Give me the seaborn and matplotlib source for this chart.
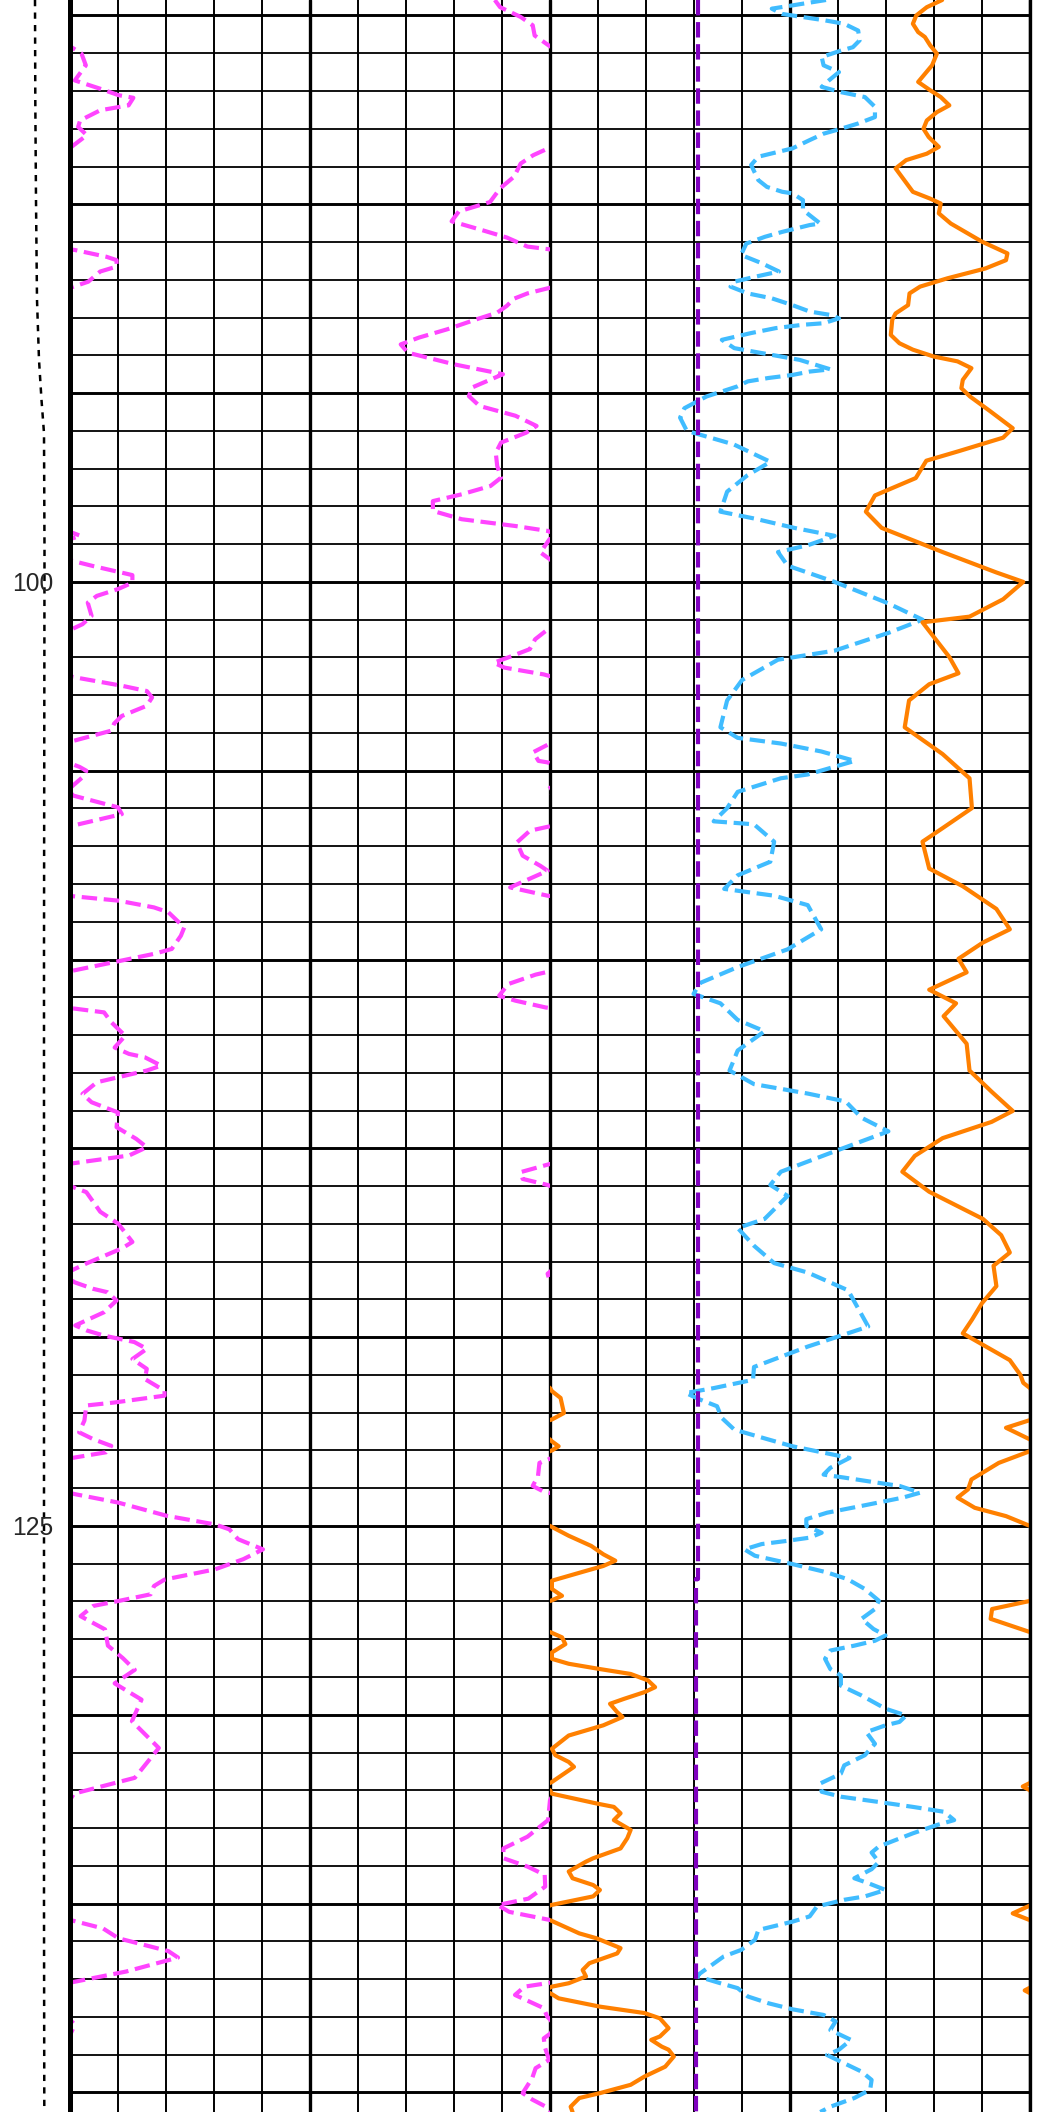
import numpy as np
import pandas as pd
import seaborn as sns
import matplotlib.pyplot as plt
from matplotlib.patches import Rectangle

# depth window shown in the picture
top_depth = 84.59
bottom_depth = 140.52

# magenta curve (wraps at 10 back into track 1)
mag_depth = [84.59, 84.78, 85.04, 85.26, 85.53, 85.79, 86.01, 86.32, 86.72, 86.94, 87.11, 87.18, 87.38,
             87.51, 87.78, 87.95, 88.17, 88.48, 88.70, 88.92, 89.27, 89.58, 89.94, 90.19, 90.45, 90.69,
             90.88, 91.12, 91.21, 91.39, 91.48, 91.65, 91.78, 92.05, 92.20, 92.36, 92.50, 92.69, 92.87,
             93.05, 93.31, 93.53, 93.71, 93.93, 94.24, 94.50, 94.85, 95.08, 95.34, 95.60, 95.87, 96.05,
             96.31, 96.58, 96.93, 97.24, 97.46, 97.68, 97.86, 98.12, 98.34, 98.52, 98.65, 98.78, 98.87,
             99.22, 99.44, 99.58, 99.82, 100.02, 100.19, 100.37, 100.55, 100.90, 101.12, 101.25, 101.30,
             101.52, 101.78, 102.00, 102.14, 102.27, 102.45, 102.52, 102.75, 102.89, 103.06, 103.28,
             103.55, 103.75, 103.94, 104.22, 104.30, 104.51, 104.74, 104.78, 104.90, 105.00, 105.13,
             105.44, 105.50, 105.66, 105.97, 106.15, 106.46, 106.59, 106.90, 107.25, 107.52, 107.65,
             107.78, 108.09, 108.31, 108.44, 108.62, 108.75, 109.15, 109.37, 109.72, 109.85, 110.30,
             110.40, 110.65, 110.96, 111.09, 111.27, 111.40, 111.66, 112.02, 112.33, 112.50, 112.59,
             112.81, 112.94, 113.25, 113.56, 113.78, 114.05, 114.44, 114.75, 114.97, 115.19, 115.40,
             115.63, 115.81, 115.97, 116.16, 116.68, 116.99, 117.48, 117.65, 118.05, 118.23, 118.32,
             118.45, 118.55, 118.72, 118.81, 119.03, 119.34, 119.69, 119.82, 119.96, 120.13, 120.31,
             120.58, 120.84, 121.11, 121.42, 121.55, 121.73, 121.81, 122.21, 122.52, 122.70, 122.88,
             123.05, 123.20, 123.33, 123.68, 123.94, 124.08, 124.16, 124.38, 124.73, 124.96, 125.09,
             125.35, 125.62, 125.88, 126.15, 126.42, 126.59, 126.81, 126.99, 127.12, 127.39, 127.74,
             128.17, 128.50, 128.81, 129.17, 129.60, 130.17, 130.88, 131.67, 132.09, 132.26, 132.79,
             133.23, 133.54, 133.80, 134.02, 134.24, 134.55, 134.87, 135.04, 135.22, 135.44, 135.66,
             135.92, 136.26, 136.43, 136.80, 136.94, 137.09, 137.14, 137.20, 137.42, 137.77, 137.99,
             138.21, 138.43, 138.57, 138.83, 139.14, 139.36, 139.62, 140.02, 140.19, 140.37, 140.52]
mag_val = [8.85, 8.96, 9.39, 9.64, 9.68, 9.97, 10.24, 10.33, 10.10, 10.63, 11.01, 11.32, 11.22,
           10.63, 10.21, 10.17, 10.35, 10.03, 9.65, 9.39, 9.25, 8.96, 8.75, 8.10, 7.95, 8.60,
           9.10, 9.53, 10.10, 10.76, 10.97, 10.97, 10.63, 10.38, 10.03, 9.53, 9.25, 9.10, 8.90,
           8.46, 7.86, 7.27, 6.89, 7.04, 8.01, 9.02, 8.38, 8.31, 8.53, 9.28, 9.72, 9.50,
           8.98, 8.87, 8.90, 8.98, 8.76, 8.16, 7.56, 7.56, 8.16, 9.28, 9.95, 10.22, 9.99,
           9.80, 10.04, 10.48, 11.30, 11.30, 11.00, 10.56, 10.37, 10.45, 10.26, 10.04, 9.91,
           9.69, 9.58, 9.13, 8.83, 9.05, 9.87, 10.07, 11.08, 11.60, 11.71, 11.60,
           11.08, 10.92, 10.86, 10.04, 9.97, 9.65, 9.76, 9.95, 10.20, 10.34, 10.30,
           10.02, 9.95, 10.07, 11.00, 11.08, 10.04, 9.58, 9.31, 9.43, 9.80, 9.95,
           9.72, 9.17, 9.95, 11.00, 11.75, 12.05, 12.38, 12.31, 12.12, 11.75, 10.04,
           9.70, 9.13, 8.94, 9.28, 9.91, 10.71, 10.86, 11.15, 10.93, 11.23, 11.56,
           11.90, 11.60, 10.56, 10.26, 10.45, 11.00, 10.97, 11.38, 11.60, 11.23, 10.04,
           9.39, 9.43, 9.95, 10.34, 10.63, 11.00, 11.30, 11.08, 10.34, 10.04, 9.95,
           9.98, 10.10, 10.48, 10.78, 10.97, 10.71, 10.11, 10.34, 10.71, 11.34, 11.60,
           11.30, 11.60, 11.56, 11.97, 11.97, 10.93, 10.34, 10.30, 10.19, 10.48, 10.86,
           10.75, 10.04, 9.78, 9.75, 9.64, 9.85, 10.11, 11.00, 12.01, 13.02, 13.32,
           13.50, 14.02, 13.61, 13.02, 11.97, 11.75, 11.68, 11.00, 10.48, 10.22, 10.73,
           10.79, 11.10, 11.35, 10.93, 11.49, 11.29, 11.85, 11.35, 10.08, 10.00, 9.96,
           9.53, 9.03, 9.03, 9.53, 9.89, 9.90, 9.55, 8.91, 9.15, 10.02, 10.69,
           11.01, 12.05, 12.25, 11.17, 10.61, 10.02, 9.78, 9.47, 9.27, 9.87, 9.94,
           10.10, 10.02, 9.87, 9.90, 9.98, 9.70, 9.63, 9.43, 9.63, 9.90, 10.00]

# cyan curve
cyan_depth = [84.59, 84.82, 84.96, 85.13, 85.22, 85.40, 85.66, 85.84, 85.93, 86.10, 86.32, 86.50, 86.72,
              86.89, 87.03, 87.16, 87.42, 87.69, 87.86, 88.00, 88.13, 88.30, 88.52, 88.74, 88.96, 89.36,
              89.54, 89.67, 89.71, 89.89, 90.15, 90.33, 90.51, 90.55, 90.73, 90.86, 91.04, 91.34, 91.56,
              91.78, 91.92, 92.05, 92.18, 92.36, 92.49, 92.67, 92.84, 92.93, 93.02, 93.15, 93.19, 93.28,
              93.41, 93.59, 93.81, 93.94, 94.12, 94.37, 94.43, 94.52, 94.60, 94.69, 94.82, 95.09, 95.40,
              95.65, 96.00, 96.36, 96.82, 97.18, 97.61, 98.14, 98.32, 98.57, 98.78, 99.03, 99.21, 99.57,
              100.00, 100.57, 101.00, 101.35, 101.82, 102.06, 102.60, 103.14, 103.85, 104.13, 104.28,
              104.49, 104.74, 105.10, 105.20, 105.56, 105.99, 106.34, 106.42, 106.88, 107.41, 107.77,
              108.13, 108.31, 108.56, 109.20, 109.73, 110.20, 110.62, 110.91, 111.16, 111.60, 111.90,
              112.41, 112.94, 113.30, 113.55, 113.76, 114.19, 114.55, 115.08, 115.62, 115.97, 116.26,
              116.87, 117.11, 117.58, 118.04, 118.29, 118.76, 119.72, 120.25, 120.79, 121.13, 121.35,
              121.48, 121.65, 121.83, 122.14, 122.45, 122.71, 122.89, 123.06, 123.20, 123.46, 123.64,
              123.72, 123.86, 123.94, 124.12, 124.25, 124.47, 124.65, 124.82, 125.00, 125.18, 125.31,
              125.40, 125.48, 125.62, 125.79, 126.01, 126.23, 126.41, 126.67, 126.98, 127.20, 127.46,
              127.73, 127.90, 128.04, 128.17, 128.30, 128.52, 128.79, 128.96, 129.23, 129.49, 129.84,
              130.02, 130.19, 130.28, 130.46, 130.77, 131.07, 131.34, 131.56, 131.82, 132.04, 132.17,
              132.31, 132.44, 132.57, 132.79, 132.92, 133.14, 133.49, 133.65, 133.90, 134.09, 134.33,
              134.46, 134.64, 134.81, 134.90, 135.08, 135.34, 135.48, 135.70, 135.96, 136.23, 136.40,
              136.92, 137.11, 137.24, 137.46, 137.64, 137.80, 137.95, 138.12, 138.35, 138.61, 138.87,
              139.01, 139.23, 139.45, 139.67, 139.93, 140.15, 140.38, 140.52]
cyan_val = [15.75, 14.62, 14.84, 15.73, 16.13, 16.42, 16.45, 16.31, 16.06, 15.66, 15.70, 16.02, 15.81,
            15.66, 16.06, 16.56, 16.77, 16.77, 16.42, 16.06, 15.70, 15.41, 15.05, 14.34, 14.19, 14.34,
            14.52, 14.84, 15.05, 15.27, 15.27, 15.45, 15.63, 15.41, 14.84, 14.48, 14.09, 13.98, 14.41,
            14.77, 14.27, 13.84, 13.76, 14.12, 14.62, 15.05, 15.41, 15.84, 16.02, 15.70, 15.27, 14.70,
            14.19, 13.58, 13.84, 14.41, 15.20, 15.84, 15.41, 15.05, 14.55, 14.12, 13.91, 13.26, 12.80,
            12.71, 12.85, 13.83, 14.59, 14.11, 13.69, 13.55, 14.25, 15.09, 15.93, 15.37, 14.75, 14.95,
            15.93, 17.05, 17.76, 17.05, 15.93, 14.75, 14.00, 13.69, 13.55, 13.91, 14.81,
            15.65, 16.35, 15.37, 14.81, 13.91, 13.69, 13.41, 14.25, 14.67, 14.59, 13.91,
            13.63, 14.67, 15.37, 15.65, 14.95, 13.91, 13.13, 12.99, 13.55, 13.91, 14.47,
            13.91, 13.74, 14.25, 15.37, 16.16, 16.49, 17.05, 15.93, 14.81, 14.59, 14.95,
            14.47, 13.91, 14.25, 14.67, 15.37, 16.21, 16.63, 15.37, 14.25, 14.23, 13.41,
            12.83, 13.12, 13.48, 13.58, 13.84, 14.55, 15.05, 15.70, 16.24, 15.84, 15.70,
            16.13, 16.85, 17.28, 17.71, 17.35, 16.49, 15.77, 15.34, 15.34, 15.66, 15.41,
            14.91, 14.41, 14.05, 14.27, 15.05, 15.77, 16.20, 16.56, 16.85, 16.77, 16.49,
            16.74, 16.99, 16.77, 16.34, 15.84, 15.73, 15.84, 16.06, 16.06, 16.49, 16.99,
            17.42, 17.28, 16.99, 16.59, 16.77, 16.56, 16.13, 16.06, 15.63, 15.66, 16.06,
            16.85, 17.56, 18.21, 18.42, 18.06, 17.56, 16.85, 16.70, 16.85, 16.70, 16.34,
            16.63, 16.99, 16.56, 16.13, 15.56, 15.41, 15.05, 14.34, 14.27, 13.98, 13.62,
            13.05, 13.55, 13.91, 14.12, 14.55, 15.05, 15.70, 15.95, 15.84, 16.27, 16.02,
            15.77, 16.13, 16.49, 16.70, 16.67, 16.34, 15.84, 15.63]

# orange curve (wraps at 20 back into track 3)
orange_depth = [84.59, 84.78, 85.00, 85.22, 85.44, 85.57, 85.79, 86.01, 86.32, 86.76, 86.98, 87.16, 87.38,
                87.56, 87.78, 88.00, 88.22, 88.48, 88.66, 88.83, 89.05, 89.36, 89.67, 89.85, 89.98, 90.24,
                90.51, 90.99, 91.30, 91.48, 91.70, 91.96, 92.18, 92.36, 92.67, 92.89, 93.06, 93.46, 93.68,
                93.85, 94.03, 94.16, 94.34, 94.65, 94.87, 95.09, 95.47, 95.93, 96.18, 96.54, 96.79, 97.25,
                97.71, 98.14, 98.57, 99.21, 99.75, 100.00, 100.46, 100.92, 101.07, 101.53, 101.99, 102.42,
                102.71, 103.14, 103.85, 104.56, 105.20, 105.99, 106.52, 106.88, 107.59, 108.06, 108.66,
                109.20, 109.55, 109.98, 110.34, 110.80, 111.16, 111.50, 112.23, 112.94, 113.50, 114.01,
                114.30, 114.73, 115.20, 115.62, 116.15, 116.87, 117.30, 117.76, 118.11, 118.65, 119.10,
                119.54, 119.90, 120.61, 121.00, 121.21, 121.35, 121.43, 121.61, 122.01, 122.18, 122.40,
                122.71, 122.76, 122.89, 123.00, 123.33, 123.77, 124.03, 124.25, 124.52, 124.74, 125.00,
                125.26, 125.53, 125.75, 125.92, 126.06, 126.19, 126.45, 126.67, 126.85, 126.98, 127.20,
                127.46, 127.82, 127.95, 128.13, 128.35, 128.52, 128.65, 128.79, 128.92, 129.09, 129.27,
                129.40, 129.58, 129.71, 129.93, 130.06, 130.28, 130.55, 130.90, 131.07, 131.25, 131.38,
                131.78, 131.90, 132.00, 132.09, 132.35, 132.44, 132.61, 132.79, 133.05, 133.27, 133.54,
                133.80, 133.89, 134.15, 134.33, 134.51, 134.64, 134.81, 135.04, 135.26, 135.45, 135.79,
                135.92, 136.18, 136.32, 136.58, 136.76, 136.93, 137.11, 137.20, 137.30, 137.40, 137.51,
                137.73, 137.90, 138.04, 138.30, 138.52, 138.61, 138.79, 138.87, 139.05, 139.32, 139.58,
                139.80, 140.02, 140.15, 140.38, 140.52]
orange_val = [18.17, 17.85, 17.63, 17.56, 17.67, 17.81, 17.92, 18.06, 17.96, 17.67, 17.92, 18.14, 18.32,
              18.06, 17.85, 17.78, 17.89, 18.10, 17.85, 17.42, 17.20, 17.38, 17.56, 17.92, 18.14, 18.10,
              18.35, 19.00, 19.53, 19.50, 19.07, 18.28, 17.71, 17.49, 17.46, 17.20, 17.13, 17.10, 17.28,
              17.56, 17.99, 18.49, 18.78, 18.60, 18.57, 18.75, 19.16, 19.64, 19.44, 18.51, 17.84, 17.62,
              16.77, 16.58, 16.91, 18.18, 19.30, 19.86, 19.44, 18.74, 17.76, 18.04, 18.32, 18.51,
              17.90, 17.48, 17.39, 18.18, 18.74, 18.79, 18.18, 17.76, 17.90, 18.60, 19.30,
              19.58, 19.02, 18.51, 18.68, 17.90, 18.46, 18.20, 18.68, 18.74, 19.20, 19.64,
              19.20, 18.18, 17.60, 17.34, 17.90, 19.02, 19.40, 19.58, 19.24, 19.30, 19.00,
              18.79, 18.60, 19.58, 19.80, 19.86, 20.00, 20.04, 20.22, 20.29, 20.04, 19.50,
              20.00, 20.04, 20.18, 20.04, 19.35, 18.78, 18.71, 18.49, 18.85, 19.50, 20.00,
              20.39, 20.86, 21.11, 21.36, 21.11, 20.75, 20.04, 20.04, 20.25, 20.02, 19.21,
              19.18, 20.02, 20.25, 20.32, 20.04, 20.04, 20.39, 21.04, 21.68, 22.04, 22.19,
              21.97, 21.54, 21.25, 21.40, 21.51, 21.11, 20.39, 20.04, 20.11, 20.39, 20.50,
              20.04, 19.85, 20.00, 20.04, 20.97, 21.33, 21.47, 21.33, 21.68, 21.61, 21.47,
              20.90, 20.75, 20.39, 20.47, 20.90, 21.04, 20.90, 20.02, 19.64, 20.02, 20.61,
              20.97, 21.47, 21.40, 20.82, 20.68, 20.75, 20.39, 20.04, 19.89, 20.04, 20.18,
              21.04, 21.97, 22.29, 22.47, 22.29, 22.11, 22.33, 22.47, 22.58, 22.40, 21.97,
              21.68, 21.04, 20.61, 20.43, 20.47]

# purple cutoff line
cut_depth = [84.59, 126.40, 126.40, 140.52]
cut_val = [13.09, 13.09, 13.05, 13.05]

# dotted curve in the narrow left track
cal_depth = [84.59, 87.24, 89.89, 92.53, 94.12, 95.18, 96.06, 99.15, 110.0, 125.0, 135.0, 140.52]
cal_val = [3.50, 3.53, 3.60, 3.70, 3.90, 4.15, 4.40, 4.45, 4.40, 4.40, 4.40, 4.43]

tick_depths = [100, 125]

sns.set_style('white')
plt.rcParams['font.family'] = ['Liberation Sans', 'DejaVu Sans']

fig = plt.figure(figsize=(10.37, 21.12), dpi=100)
ax_cal = fig.add_axes([0, 0, 70 / 1037, 1], zorder=0)
ax = fig.add_axes([70 / 1037, 0, 960 / 1037, 1], zorder=1)
ax.patch.set_alpha(0)


def track_clip(x0, x1):
    return Rectangle((x0, top_depth - 1), x1 - x0, bottom_depth - top_depth + 2,
                     transform=ax.transData)


def draw(depth, val, color, ls, x0, x1, shift=0.0):
    df = pd.DataFrame({'depth': depth, 'val': np.array(val) - shift})
    sns.lineplot(data=df, x='val', y='depth', orient='y', sort=False, estimator=None,
                 color=color, linewidth=3, linestyle=ls, ax=ax)
    line = ax.lines[-1]
    line.set_linewidth(3)
    line.set_linestyle(ls)
    line.set_clip_path(track_clip(x0, x1))


draw(mag_depth, mag_val, '#FF44FF', '--', 0, 10)
draw(mag_depth, mag_val, '#FF44FF', '--', 0, 10, shift=10)
draw(cyan_depth, cyan_val, '#40BCFF', '--', 10, 20)
draw(cut_depth, cut_val, '#7F00BF', '--', 10, 20)
draw(orange_depth, orange_val, '#FF8000', '-', 10, 20)
draw(orange_depth, orange_val, '#FF8000', '-', 10, 20, shift=10)

ax.set_xlim(0, 20)
ax.set_ylim(bottom_depth, top_depth)
ax.set_xticks(np.arange(0, 21, 5))
ax.set_xticks(np.arange(0, 21, 1), minor=True)
ax.set_yticks(np.arange(85, 141, 5))
ax.set_yticks(np.arange(85, 141, 1), minor=True)
ax.set_yticklabels([str(d) if d in tick_depths else '' for d in np.arange(85, 141, 5)])
ax.set_axisbelow(True)
ax.grid(which='major', axis='x', color='black', lw=2.4)
ax.grid(which='minor', axis='x', color='black', lw=1.4)
ax.grid(which='major', axis='y', color='black', lw=2.1)
ax.grid(which='minor', axis='y', color='black', lw=1.3)
ax.tick_params(which='both', length=0, labelbottom=False, labelsize=17.7, pad=12)
ax.set_xlabel('')
ax.set_ylabel('')
for side in ['top', 'bottom']:
    ax.spines[side].set_visible(False)
ax.spines['left'].set_linewidth(3.6)
ax.spines['right'].set_linewidth(2.4)
ax.spines['left'].set_color('black')
ax.spines['right'].set_color('black')

sns.lineplot(x=cal_val, y=cal_depth, orient='y', sort=False, estimator=None,
             color='black', linewidth=1.8, ax=ax_cal)
ax_cal.lines[-1].set_linewidth(1.8)
ax_cal.lines[-1].set_linestyle((0, (2.5, 2.5)))
ax_cal.set_xlim(0, 7)
ax_cal.set_ylim(bottom_depth, top_depth)
ax_cal.axis('off')

fig.savefig('out.png', dpi=100)
